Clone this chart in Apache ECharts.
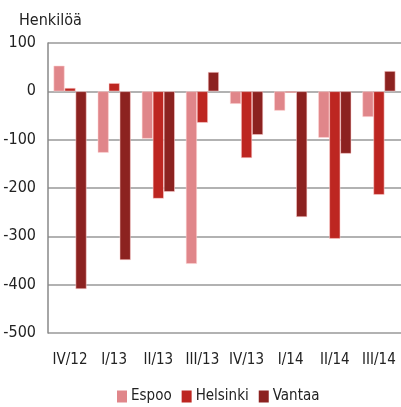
<!DOCTYPE html>
<html>
<head>
<meta charset="utf-8">
<script src="https://cdn.jsdelivr.net/npm/echarts@6/dist/echarts.min.js"></script>
<style>
  html, body { margin: 0; padding: 0; background: #fff; }
  #chart { width: 401px; height: 407px; }
</style>
</head>
<body>
<div id="chart"></div>
<script>
const categories = ['IV/12', 'I/13', 'II/13', 'III/13', 'IV/13', 'I/14', 'II/14', 'III/14']
const espoo = [53, -127, -98, -357, -26, -40, -96, -53]
const helsinki = [7, 17, -222, -65, -138, -3, -305, -214]
const vantaa = [-409, -349, -208, 40, -90, -260, -129, 42]
const yTicks = [-500, -400, -300, -200, -100, 0, 100]

const font = '"DejaVu Sans Condensed", "Liberation Sans Narrow", sans-serif'
const chart = echarts.init(document.getElementById('chart'))

const bar = (name, data, color) => ({
  name,
  type: 'bar',
  data,
  barWidth: 11,
  barGap: '0%',
  itemStyle: { color, borderColor: 'rgba(255,210,210,0.9)', borderWidth: 0.6 }
})

chart.setOption({
  animation: false,
  textStyle: { fontFamily: font },
  title: {
    text: 'Henkilöä',
    left: 14,
    top: 8,
    textStyle: { fontFamily: font, fontSize: 16, fontWeight: 'normal', color: '#222' }
  },
  legend: {
    bottom: -2,
    left: 112,
    itemWidth: 10,
    itemHeight: 12,
    itemGap: 10,
    icon: 'rect',
    itemStyle: { borderWidth: 0 },
    textStyle: { fontFamily: font, fontSize: 15, color: '#222', padding: [0, 0, 0, -1] }
  },
  grid: { left: 48, right: 0, top: 43, bottom: 74 },
  xAxis: {
    type: 'category',
    data: categories,
    axisLine: { show: false },
    axisTick: { show: false },
    axisLabel: { interval: 0, margin: 20, fontSize: 15, color: '#222', fontFamily: font }
  },
  yAxis: {
    type: 'value',
    min: yTicks[0],
    max: yTicks[yTicks.length - 1],
    interval: 100,
    axisLine: { show: true, lineStyle: { color: '#888', width: 1.5 } },
    axisTick: { show: false },
    axisLabel: { margin: 12, fontSize: 16, color: '#222', fontFamily: font },
    splitLine: { lineStyle: { color: '#999', width: 1.5 } }
  },
  series: [
    bar('Espoo', espoo, '#e0868a'),
    bar('Helsinki', helsinki, '#bd2621'),
    bar('Vantaa', vantaa, '#8c2220')
  ]
})
</script>
</body>
</html>
